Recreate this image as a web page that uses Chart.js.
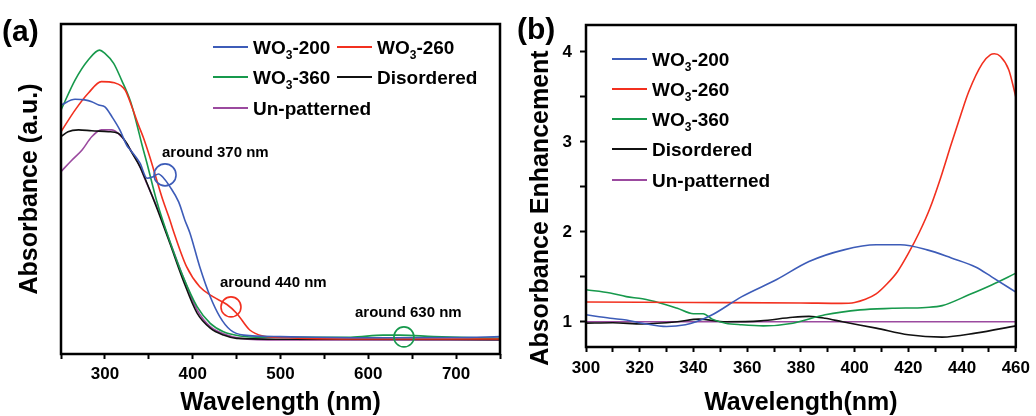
<!DOCTYPE html>
<html>
<head>
<meta charset="utf-8">
<script src="https://cdn.jsdelivr.net/npm/chart.js@4.4.1/dist/chart.umd.min.js"></script>
<style>
  html, body { margin: 0; padding: 0; background: #fff; }
  #wrap { position: relative; width: 1036px; height: 416px; overflow: hidden; }
  #chart-a { position: absolute; left: 0; top: 0; }
  #chart-b { position: absolute; left: 510px; top: 0; }
</style>
</head>
<body>
<div id="wrap">
  <canvas id="chart-a" width="510" height="416"></canvas>
  <canvas id="chart-b" width="526" height="416"></canvas>
</div>
<script>
// Séries e rótulos
const seriesNames = ['WO₃-200', 'WO₃-260', 'WO₃-360', 'Disordered', 'Un-patterned'];
const seriesColors = ['#3d5cb8', '#f2301f', '#17994c', '#111111', '#9b4a9f'];

// (a) absorbância (u.a.) x comprimento de onda (nm)
const wlA200 = [250, 266, 277, 285, 293, 300, 308, 317, 325, 329, 340, 348, 355, 361, 367, 374, 384, 391, 397, 408, 420, 431, 443, 458, 500, 600, 700, 750];
const absA200 = [0.83, 0.849, 0.847, 0.841, 0.83, 0.824, 0.791, 0.747, 0.695, 0.68, 0.636, 0.586, 0.591, 0.6, 0.586, 0.558, 0.507, 0.447, 0.402, 0.291, 0.191, 0.124, 0.08, 0.063, 0.058, 0.054, 0.055, 0.058];
const wlA260 = [250, 266, 281, 296, 311, 323, 330, 338, 344, 351, 359, 366, 374, 378, 393, 408, 423, 439, 450, 465, 480, 500, 600, 750];
const absA260 = [0.741, 0.813, 0.869, 0.908, 0.904, 0.88, 0.83, 0.765, 0.72, 0.658, 0.58, 0.513, 0.447, 0.41, 0.291, 0.224, 0.191, 0.165, 0.136, 0.08, 0.06, 0.055, 0.05, 0.05];
const wlA360 = [250, 266, 281, 294, 300, 310, 319, 329, 336, 342, 348, 359, 374, 389, 405, 420, 435, 454, 480, 580, 617, 636, 674, 750];
const absA360 = [0.813, 0.913, 0.98, 1.013, 1.002, 0.969, 0.913, 0.843, 0.77, 0.7, 0.635, 0.51, 0.375, 0.258, 0.158, 0.102, 0.074, 0.06, 0.056, 0.056, 0.063, 0.063, 0.058, 0.052];
const wlADis = [250, 258, 270, 285, 304, 315, 325, 329, 340, 348, 360, 374, 389, 405, 420, 435, 450, 500, 750];
const absADis = [0.724, 0.741, 0.747, 0.744, 0.741, 0.736, 0.702, 0.68, 0.624, 0.569, 0.48, 0.369, 0.247, 0.136, 0.086, 0.063, 0.052, 0.049, 0.048];
const wlAUnp = [250, 262, 274, 285, 296, 308, 319, 327, 340, 346, 360, 374, 389, 405, 420, 439, 454, 500, 750];
const absAUnp = [0.608, 0.645, 0.68, 0.724, 0.747, 0.747, 0.724, 0.691, 0.624, 0.58, 0.485, 0.375, 0.258, 0.147, 0.091, 0.063, 0.052, 0.047, 0.047];

// (b) aumento de absorbância
const wlB200 = [300, 309, 315, 321, 330, 337, 341, 347, 358, 371, 383, 396, 408, 417, 427, 436, 445, 451, 460];
const enhB200 = [1.078, 1.04, 1.02, 0.985, 0.948, 0.967, 1.0, 1.078, 1.28, 1.47, 1.67, 1.8, 1.856, 1.856, 1.8, 1.71, 1.61, 1.5, 1.33];
const wlB260 = [300, 340, 380, 395, 400, 404, 408, 412, 416, 420, 424, 428, 432, 436, 439.5, 442.5, 447.5, 450.6, 452, 454.3, 457.4, 460];
const enhB260 = [1.22, 1.215, 1.21, 1.205, 1.215, 1.25, 1.31, 1.42, 1.56, 1.76, 1.99, 2.26, 2.6, 2.98, 3.3, 3.56, 3.87, 3.97, 3.98, 3.95, 3.8, 3.5];
const wlB360 = [300, 309, 315, 321, 327.5, 334, 340, 343.6, 347, 352, 358, 366, 377, 389, 402, 414, 426.5, 432.6, 442.5, 451, 460];
const enhB360 = [1.356, 1.32, 1.28, 1.256, 1.21, 1.15, 1.09, 1.09, 1.03, 0.985, 0.967, 0.955, 0.985, 1.078, 1.133, 1.15, 1.16, 1.18, 1.3, 1.41, 1.54];
const wlBDis = [300, 310, 321, 334, 342, 352, 365, 377, 383, 389, 395.5, 408, 420, 432.6, 445, 460];
const enhBDis = [0.985, 0.99, 0.976, 1.0, 1.03, 1.0, 1.01, 1.05, 1.06, 1.04, 1.0, 0.93, 0.856, 0.83, 0.874, 0.955];
const wlBUnp = [300, 380, 460];
const enhBUnp = [1.0, 1.0, 1.0];

// Eixos
const ticksA = [250, 300, 350, 400, 450, 500, 550, 600, 650, 700, 750];
const ticksB = [300, 310, 320, 330, 340, 350, 360, 370, 380, 390, 400, 410, 420, 430, 440, 450, 460];
const yTicksB = [1, 1.5, 2, 2.5, 3, 3.5, 4];

const FONT = '"Liberation Sans", Arial, Helvetica, sans-serif';
Chart.defaults.font.family = FONT;
Chart.defaults.color = '#000';

const toPoints = (xs, ys) => xs.map((x, i) => ({ x, y: ys[i] }));
const makeSet = (i, xs, ys) => ({
  label: seriesNames[i],
  data: toPoints(xs, ys),
  borderColor: seriesColors[i],
  borderWidth: 1.6,
  pointRadius: 0,
  cubicInterpolationMode: 'monotone',
  fill: false
});

// texto com subscrito (WO₃)
function drawRich(ctx, text, x, y, size) {
  const parts = text.split('₃');
  ctx.textAlign = 'left';
  ctx.textBaseline = 'alphabetic';
  let cx = x;
  parts.forEach((p, k) => {
    ctx.font = 'bold ' + size + 'px ' + FONT;
    ctx.fillText(p, cx, y);
    cx += ctx.measureText(p).width;
    if (k < parts.length - 1) {
      const s = Math.round(size * 0.63);
      ctx.font = 'bold ' + s + 'px ' + FONT;
      ctx.fillText('3', cx, y + 5);
      cx += ctx.measureText('3').width;
    }
  });
}

const decorPlugin = {
  id: 'decor',
  afterDraw(chart, args, opts) {
    const { ctx, chartArea: a, scales } = chart;
    ctx.save();
    // moldura
    ctx.strokeStyle = '#000';
    ctx.lineWidth = 2.5;
    ctx.strokeRect(a.left, a.top, a.right - a.left, a.bottom - a.top);
    // rótulo do painel
    ctx.fillStyle = '#000';
    ctx.font = 'bold 30px ' + FONT;
    ctx.textAlign = 'left';
    ctx.textBaseline = 'alphabetic';
    ctx.fillText(opts.tag, opts.tagX, opts.tagY);
    // legenda
    (opts.legend || []).forEach(it => {
      ctx.strokeStyle = seriesColors[it.i];
      ctx.lineWidth = 1.8;
      ctx.beginPath();
      ctx.moveTo(it.x, it.y);
      ctx.lineTo(it.x + 35, it.y);
      ctx.stroke();
      ctx.fillStyle = '#000';
      drawRich(ctx, seriesNames[it.i], it.x + 40, it.y + 6.5, 19);
    });
    // círculos de destaque (em coordenadas de dados)
    (opts.circles || []).forEach(c => {
      ctx.strokeStyle = c.color;
      ctx.lineWidth = 1.6;
      ctx.beginPath();
      ctx.arc(scales.x.getPixelForValue(c.x), scales.y.getPixelForValue(c.y), c.r, 0, Math.PI * 2);
      ctx.stroke();
    });
    // anotações
    ctx.fillStyle = '#000';
    ctx.font = 'bold 15px ' + FONT;
    ctx.textAlign = 'left';
    ctx.textBaseline = 'alphabetic';
    (opts.notes || []).forEach(n => ctx.fillText(n.text, n.x, n.y));
    // título vertical customizado
    if (opts.yTitle) {
      ctx.translate(opts.yTitle.x, opts.yTitle.y);
      ctx.rotate(-Math.PI / 2);
      ctx.font = 'bold 25px ' + FONT;
      ctx.textAlign = 'center';
      ctx.fillText(opts.yTitle.text, 0, 0);
    }
    ctx.restore();
  }
};

const tickFont = { size: 17, weight: 'bold' };
const axisTitleFont = { size: 25, weight: 'bold', lineHeight: 1 };

// Painel (a)
const chartA = new Chart(document.getElementById('chart-a'), {
  type: 'line',
  data: {
    datasets: [
      makeSet(0, wlA200, absA200),
      makeSet(1, wlA260, absA260),
      makeSet(2, wlA360, absA360),
      makeSet(3, wlADis, absADis),
      makeSet(4, wlAUnp, absAUnp)
    ]
  },
  options: {
    responsive: false,
    animation: false,
    layout: { padding: { left: 0, right: 10, top: 24, bottom: 0 } },
    plugins: {
      legend: { display: false },
      tooltip: { enabled: false },
      decor: {
        tag: '(a)', tagX: 2, tagY: 41,
        legend: [
          { i: 0, x: 213, y: 47 }, { i: 1, x: 337, y: 47 },
          { i: 2, x: 213, y: 77 }, { i: 3, x: 337, y: 77 },
          { i: 4, x: 213, y: 108 }
        ],
        circles: [
          { x: 368.5, y: 0.597, r: 11, color: seriesColors[0] },
          { x: 443.6, y: 0.157, r: 10, color: seriesColors[1] },
          { x: 640.6, y: 0.057, r: 10, color: seriesColors[2] }
        ],
        notes: [
          { text: 'around 370 nm', x: 162, y: 157 },
          { text: 'around 440 nm', x: 220, y: 287 },
          { text: 'around 630 nm', x: 355, y: 317 }
        ]
      }
    },
    scales: {
      x: {
        type: 'linear', min: 250, max: 750,
        afterBuildTicks: s => { s.ticks = ticksA.map(v => ({ value: v })); },
        ticks: {
          autoSkip: false, maxRotation: 0, padding: 5, font: tickFont,
          callback: v => (v % 100 === 0 && v > 250 && v < 750) ? String(v) : ''
        },
        grid: { drawOnChartArea: false, tickLength: 5, tickWidth: 2, tickColor: '#000' },
        border: { display: false },
        title: { display: true, text: 'Wavelength (nm)', font: axisTitleFont, padding: { top: 0, bottom: 0 } },
        afterFit: s => { s.height = 62; }
      },
      y: {
        min: 0, max: 1.1,
        ticks: { display: false },
        grid: { display: false },
        border: { display: false },
        title: { display: true, text: 'Absorbance (a.u.)', font: { size: 25, weight: 'bold' }, padding: { top: 15, bottom: 0 } },
        afterFit: s => { s.width = 61; }
      }
    }
  },
  plugins: [decorPlugin]
});

// Painel (b)
const chartB = new Chart(document.getElementById('chart-b'), {
  type: 'line',
  data: {
    datasets: [
      makeSet(0, wlB200, enhB200),
      makeSet(1, wlB260, enhB260),
      makeSet(2, wlB360, enhB360),
      makeSet(3, wlBDis, enhBDis),
      makeSet(4, wlBUnp, enhBUnp)
    ]
  },
  options: {
    responsive: false,
    animation: false,
    layout: { padding: { left: 0, right: 19, top: 25, bottom: 0 } },
    plugins: {
      legend: { display: false },
      tooltip: { enabled: false },
      decor: {
        tag: '(b)', tagX: 7, tagY: 39,
        legend: [
          { i: 0, x: 102, y: 59 }, { i: 1, x: 102, y: 89 }, { i: 2, x: 102, y: 119 },
          { i: 3, x: 102, y: 149 }, { i: 4, x: 102, y: 180 }
        ],
        yTitle: { text: 'Absorbance Enhancement', x: 38, y: 208 }
      }
    },
    scales: {
      x: {
        type: 'linear', min: 300, max: 460,
        afterBuildTicks: s => { s.ticks = ticksB.map(v => ({ value: v })); },
        ticks: {
          autoSkip: false, maxRotation: 0, padding: 6, font: tickFont,
          callback: v => (v % 20 === 0) ? String(v) : ''
        },
        grid: { drawOnChartArea: false, tickLength: 5, tickWidth: 2, tickColor: '#000' },
        border: { display: false },
        title: { display: true, text: 'Wavelength(nm)', font: axisTitleFont, padding: { top: 0, bottom: 0 } },
        afterFit: s => { s.height = 69; }
      },
      y: {
        min: 0.72, max: 4.3,
        afterBuildTicks: s => { s.ticks = yTicksB.map(v => ({ value: v })); },
        ticks: {
          autoSkip: false, padding: 8, font: tickFont,
          callback: v => Number.isInteger(v) ? String(v) : ''
        },
        grid: { drawOnChartArea: false, tickLength: 6, tickWidth: 2, tickColor: '#000' },
        border: { display: false },
        title: { display: false },
        afterFit: s => { s.width = 76; }
      }
    }
  },
  plugins: [decorPlugin]
});
</script>
</body>
</html>
